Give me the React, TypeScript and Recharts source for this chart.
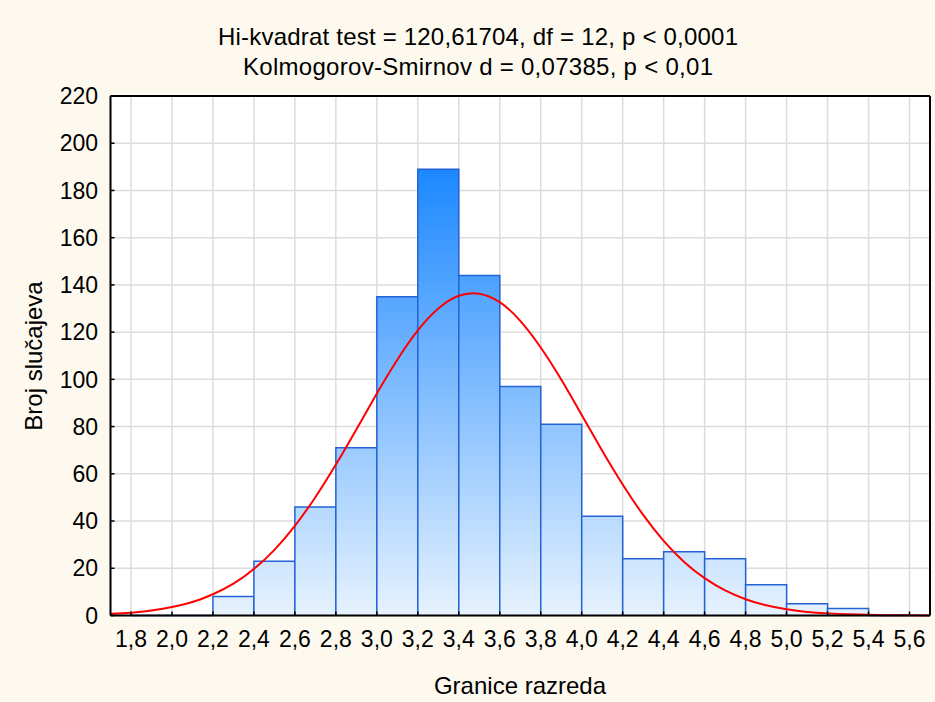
import React from 'react';
import { ComposedChart, Bar, Line, XAxis, YAxis, CartesianGrid } from 'recharts';

// Class midpoints (with domain ends) and bin counts
const binMids = [1.7, 1.9, 2.1, 2.3, 2.5, 2.7, 2.9, 3.1, 3.3, 3.5, 3.7, 3.9, 4.1, 4.3, 4.5, 4.7, 4.9, 5.1, 5.3, 5.5, 5.7];
const counts: (number | null)[] = [null, 0, 0, 8, 23, 46, 71, 135, 189, 144, 97, 81, 42, 24, 27, 24, 13, 5, 3, 0, null];

// Fitted normal curve
const curveX = [1.7, 1.8, 1.9, 2.0, 2.1, 2.2, 2.3, 2.4, 2.5, 2.6, 2.7, 2.8, 2.9, 3.0, 3.1, 3.2, 3.3, 3.4, 3.5, 3.6, 3.7, 3.8, 3.9, 4.0, 4.1, 4.2, 4.3, 4.4, 4.5, 4.6, 4.7, 4.8, 4.9, 5.0, 5.1, 5.2, 5.3, 5.4, 5.5, 5.6, 5.7];
const curveY = [0.7, 1.2, 2.1, 3.6, 5.7, 9.0, 13.5, 19.7, 27.8, 38.0, 50.1, 63.9, 78.8, 94.0, 108.3, 120.7, 130.0, 135.4, 136.3, 132.7, 124.8, 113.5, 99.9, 84.9, 69.8, 55.5, 42.6, 31.6, 22.7, 15.8, 10.6, 6.9, 4.3, 2.6, 1.5, 0.9, 0.5, 0.3, 0.1, 0.1, 0.0];

const xTicks = [1.8, 2.0, 2.2, 2.4, 2.6, 2.8, 3.0, 3.2, 3.4, 3.6, 3.8, 4.0, 4.2, 4.4, 4.6, 4.8, 5.0, 5.2, 5.4, 5.6];
const yTicks = [0, 20, 40, 60, 80, 100, 120, 140, 160, 180, 200, 220];

const titleLine1 = 'Hi-kvadrat test = 120,61704, df = 12, p < 0,0001';
const titleLine2 = 'Kolmogorov-Smirnov d = 0,07385, p < 0,01';
const xTitle = 'Granice razreda';
const yTitle = 'Broj slučajeva';

const barData = binMids.map((x, i) => ({ x, count: counts[i] }));
const curveData = curveX.map((x, i) => ({ x, normal: curveY[i] }));

const FONT = '"Liberation Sans", Arial, sans-serif';
const BG = '#FEF9EE';

const HistBar = (props: any) => {
  const { x, y, width, height, payload } = props;
  if (!payload || payload.count == null) return null;
  if ([x, y, width, height].some((v) => typeof v !== 'number' || isNaN(v))) return null;
  const bottom = y + height;
  return (
    <g>
      {height > 0 && <rect x={x} y={y} width={width} height={height} fill="url(#barGrad)" />}
      <path
        d={`M${x},${bottom} V${y} H${x + width} V${bottom}`}
        fill="none"
        stroke="#2463d6"
        strokeWidth={1.5}
      />
    </g>
  );
};

const fmt = (v: number) => v.toFixed(1).replace('.', ',');

export default function App() {
  const tickStyle = { fill: '#000', fontSize: 23, fontFamily: FONT };
  const axisLine = { stroke: '#000', strokeWidth: 2 };
  const tickLine = { stroke: '#000', strokeWidth: 1.5 };
  return (
    <div style={{ position: 'absolute', left: 0, top: 0, width: 935, height: 702, background: BG }}>
      <ComposedChart
        width={935}
        height={702}
        data={barData}
        margin={{ top: 95, right: 4, bottom: 26.5, left: 50.5 }}
        barCategoryGap={0}
        barGap={0}
      >
        <defs>
          <linearGradient id="barGrad" gradientUnits="userSpaceOnUse" x1="0" y1="170" x2="0" y2="615">
            <stop offset="0" stopColor="#1C88FF" />
            <stop offset="1" stopColor="#E6F2FE" />
          </linearGradient>
        </defs>
        <CartesianGrid stroke="#dcdcdc" strokeWidth={1.5} fill="#ffffff" />
        <XAxis
          dataKey="x"
          type="number"
          domain={[1.7, 5.7]}
          ticks={xTicks}
          interval={0}
          tickFormatter={fmt}
          height={60}
          tickSize={-4}
          tickMargin={19}
          axisLine={axisLine}
          tickLine={tickLine}
          tick={tickStyle}
        />
        <XAxis
          xAxisId="curve"
          dataKey="x"
          type="number"
          domain={[1.7, 5.7]}
          hide
        />
        <XAxis
          xAxisId="top"
          orientation="top"
          type="number"
          domain={[1.7, 5.7]}
          ticks={xTicks}
          interval={0}
          height={1}
          tickSize={-4}
          axisLine={axisLine}
          tickLine={tickLine}
          tick={false}
        />
        <YAxis
          type="number"
          domain={[0, 220]}
          ticks={yTicks}
          interval={0}
          width={60}
          tickSize={-4}
          tickMargin={16.5}
          axisLine={axisLine}
          tickLine={tickLine}
          tick={tickStyle}
        />
        <YAxis
          yAxisId="right"
          orientation="right"
          type="number"
          domain={[0, 220]}
          ticks={yTicks}
          interval={0}
          width={1}
          tickSize={-4}
          axisLine={axisLine}
          tickLine={tickLine}
          tick={false}
        />
        <Bar dataKey="count" shape={HistBar} isAnimationActive={false} />
        <Line
          xAxisId="curve"
          data={curveData}
          dataKey="normal"
          type="natural"
          stroke="#ff0000"
          strokeWidth={2}
          dot={false}
          activeDot={false}
          isAnimationActive={false}
        />
      </ComposedChart>
      <svg
        width={935}
        height={702}
        style={{ position: 'absolute', left: 0, top: 0, pointerEvents: 'none' }}
      >
        <text x={478} y={45} textAnchor="middle" fontFamily={FONT} fontSize={24} fill="#000" textLength={520} lengthAdjust="spacing">
          {titleLine1}
        </text>
        <text x={478} y={75} textAnchor="middle" fontFamily={FONT} fontSize={24} fill="#000" textLength={470} lengthAdjust="spacing">
          {titleLine2}
        </text>
        <text x={520} y={694} textAnchor="middle" fontFamily={FONT} fontSize={24} fill="#000">
          {xTitle}
        </text>
        <text
          x={0}
          y={0}
          transform="translate(42,356) rotate(-90)"
          textAnchor="middle"
          fontFamily={FONT}
          fontSize={24}
          fill="#000"
        >
          {yTitle}
        </text>
      </svg>
    </div>
  );
}
